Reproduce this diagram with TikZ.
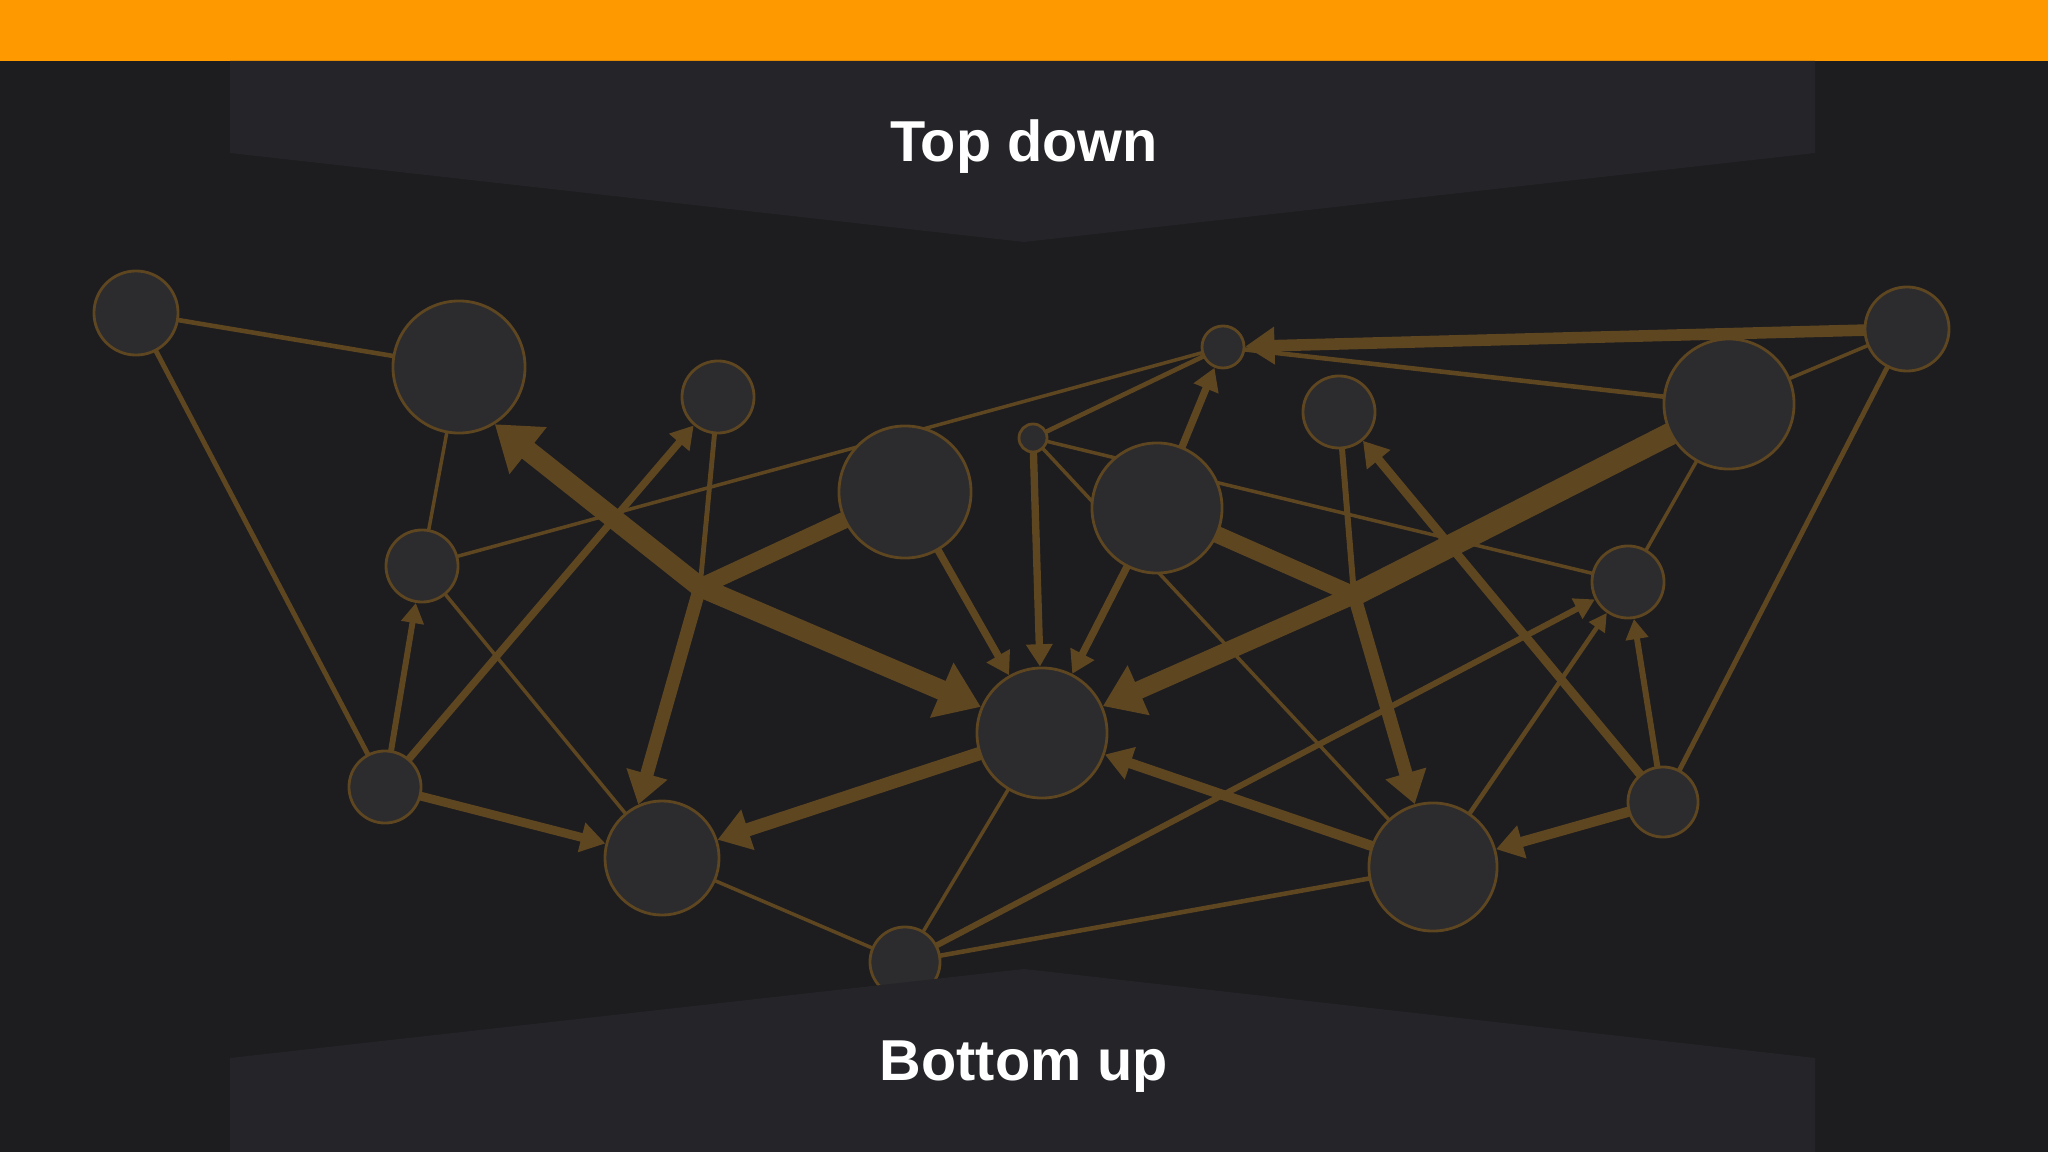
\documentclass[tikz,border=0pt]{standalone}
\usepackage{fontspec}
\setmainfont{Liberation Sans}
\usetikzlibrary{arrows.meta}
\definecolor{barorange}{HTML}{FF9900}
\definecolor{slate}{HTML}{1D1C1F}
\definecolor{band}{HTML}{252428}
\definecolor{linkbrown}{HTML}{5E4621}
\definecolor{nodegrey}{HTML}{2C2B2E}
\pgfdeclarelayer{back}
\pgfdeclarelayer{links}
\pgfdeclarelayer{front}
\pgfsetlayers{back,links,main,front}
\begin{document}
\begin{tikzpicture}[
  x=0.01cm, y=-0.01cm,
  >={Triangle[length=3pt 1.6, width=2pt 2.5]},
  vertex/.style={circle, draw=linkbrown, fill=nodegrey, line width=0.8pt, inner sep=0pt, minimum size=#1},
  heading/.style={text=white, font=\bfseries\fontsize{16.4}{20}\selectfont, anchor=base},
  plain edge/.style={color=linkbrown, line cap=round},
  arrow edge/.style={color=linkbrown, line cap=round, ->}
]
\useasboundingbox (0,0) rectangle (2048,1152);
% Backdrop and the two bands
\begin{pgfonlayer}{back}
\fill[slate] (0,0) rectangle (2048,1152);
\fill[barorange] (0,0) rectangle (2048,61);
\fill[band] (230,61) -- (1815,61) -- (1815,153) -- (1024,242) -- (230,153) -- cycle;
\end{pgfonlayer}
\node[heading] (top) at (1024,162) {Top down};
% Define the nodes
\node[vertex=0.84cm] (A) at (136,313) {};
\node[vertex=1.32cm] (B) at (459,367) {};
\node[vertex=0.72cm] (C) at (718,397) {};
\node[vertex=0.72cm] (D) at (422,566) {};
\node[vertex=1.32cm] (E) at (905,492) {};
\node[vertex=0.72cm] (F) at (385,787) {};
\node[vertex=1.14cm] (G) at (662,858) {};
\node[vertex=1.30cm] (H) at (1042,733) {};
\node[vertex=0.70cm] (I) at (905,962) {};
\node[vertex=0.42cm] (J) at (1223,347) {};
\node[vertex=0.28cm] (K) at (1033,438) {};
\node[vertex=1.30cm] (L) at (1157,508) {};
\node[vertex=0.72cm] (M) at (1339,412) {};
\node[vertex=1.30cm] (N) at (1729,404) {};
\node[vertex=0.84cm] (O) at (1907,329) {};
\node[vertex=0.72cm] (P) at (1628,582) {};
\node[vertex=0.70cm] (Q) at (1663,802) {};
\node[vertex=1.28cm] (R) at (1433,867) {};
\coordinate (X) at (700,587);
\coordinate (Y) at (1354,595);
% Define the edges
\begin{pgfonlayer}{links}
\path[plain edge, line width=1.3pt] (A) edge (B);
\path[plain edge, line width=1.4pt] (A) edge (F);
\path[plain edge, line width=1pt] (B) edge (D);
\path[plain edge, line width=1pt] (D) edge (J);
\path[plain edge, line width=1pt] (D) edge (G);
\path[arrow edge, line width=1.7pt] (F) edge (D);
\path[arrow edge, line width=2.1pt] (F) edge (C);
\path[arrow edge, line width=2.5pt] (F) edge (G);
\path[plain edge, line width=4.8pt] (E) edge (X);
\path[plain edge, line width=1.4pt] (C) edge (X);
\path[arrow edge, line width=3.8pt] (X) edge (G.114);
\path[arrow edge, line width=5.7pt] (X) edge (B.-58);
\path[arrow edge, line width=5.7pt] (X) edge (H);
\path[arrow edge, line width=2.1pt] (E) edge (H);
\path[arrow edge, line width=3.8pt] (H) edge (G);
\path[plain edge, line width=1pt] (G) edge (I);
\path[plain edge, line width=1pt] (H) edge (I);
\path[arrow edge, line width=2.1pt] (K) edge (H);
\path[arrow edge, line width=2.1pt] (L) edge (H);
\path[plain edge, line width=1.3pt] (K) edge (J);
\path[plain edge, line width=1pt] (K) edge (P);
\path[plain edge, line width=1pt] (K) edge (R);
\path[arrow edge, line width=2.1pt] (L) edge (J);
\path[plain edge, line width=1.3pt] (N) edge (J);
\path[arrow edge, line width=3.3pt] (O) edge (J);
\path[plain edge, line width=1pt] (O) edge (N);
\path[plain edge, line width=1.4pt] (O) edge (Q);
\path[plain edge, line width=1pt] (N) edge (P);
\path[plain edge, line width=6.4pt] (N) edge (Y);
\path[plain edge, line width=4.8pt] (L) edge (Y);
\path[plain edge, line width=1.7pt] (M) edge (Y);
\path[arrow edge, line width=5.1pt] (Y) edge (H);
\path[arrow edge, line width=3.8pt] (Y) edge (R);
\path[arrow edge, line width=2.5pt] (Q) edge (M);
\path[arrow edge, line width=1.7pt] (Q) edge (P);
\path[arrow edge, line width=1.7pt] (I) edge (P);
\path[arrow edge, line width=1.3pt] (R) edge (P);
\path[arrow edge, line width=2.9pt] (Q) edge (R);
\path[arrow edge, line width=2.9pt] (R) edge (H);
\path[plain edge, line width=1.3pt] (I) edge (R);
\end{pgfonlayer}
% Lower band drawn over the graph
\begin{pgfonlayer}{front}
\fill[band] (230,1152) -- (230,1058) -- (1024,969) -- (1815,1058) -- (1815,1152) -- cycle;
\node[heading] (bottom) at (1024,1080) {Bottom up};
\end{pgfonlayer}
\end{tikzpicture}
\end{document}
